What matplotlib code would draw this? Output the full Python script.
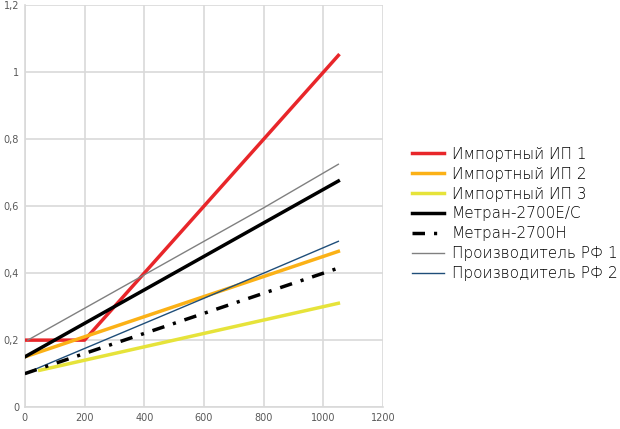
import matplotlib
matplotlib.use('Agg')
import matplotlib.pyplot as plt
from matplotlib.ticker import FuncFormatter

# data
x = [0, 200, 400, 600, 800, 1050]
imp1 = [0.2, 0.2, 0.4, 0.6, 0.8, 1.05]
imp2 = [0.15, 0.21, 0.27, 0.33, 0.39, 0.465]
x_imp3 = [50, 200, 400, 600, 800, 1050]
imp3 = [0.11, 0.14, 0.18, 0.22, 0.26, 0.31]
metran_ec = [0.15, 0.25, 0.35, 0.45, 0.55, 0.675]
metran_h = [0.1, 0.16, 0.22, 0.28, 0.34, 0.415]
x_rf1 = [10, 200, 400, 600, 800, 1050]
rf1 = [0.2, 0.295, 0.395, 0.495, 0.595, 0.725]
rf2 = [0.1, 0.175, 0.25, 0.325, 0.40, 0.495]

xticks = [0, 200, 400, 600, 800, 1000, 1200]
yticks = [0, 0.2, 0.4, 0.6, 0.8, 1.0, 1.2]

fig = plt.figure(figsize=(6.2, 4.29), dpi=100)
ax = fig.add_axes([0.040, 0.051, 0.578, 0.937])

ax.plot(x, imp1, color='#e8262a', lw=2.5, label='Импортный ИП 1', zorder=3)
ax.plot(x, imp2, color='#fbb116', lw=2.5, label='Импортный ИП 2', zorder=3)
ax.plot(x_imp3, imp3, color='#e6e33a', lw=2.5, label='Импортный ИП 3', zorder=3)
ax.plot(x, metran_ec, color='black', lw=2.5, label='Метран-2700E/C', zorder=4)
ax.plot(x, metran_h, color='black', lw=2.5, dashes=(3.6, 2.6, 0.9, 2.6),
        label='Метран-2700H', zorder=4)
ax.plot(x_rf1, rf1, color='#808080', lw=1.0, label='Производитель РФ 1', zorder=3)
ax.plot(x, rf2, color='#1f4e79', lw=1.0, label='Производитель РФ 2', zorder=3)

ax.set_xlim(0, 1200)
ax.set_ylim(0, 1.2)
ax.set_xticks(xticks)
ax.set_yticks(yticks)
ax.yaxis.set_major_formatter(FuncFormatter(lambda v, p: ('%g' % round(v, 1)).replace('.', ',')))
ax.grid(True, color='#d9d9d9', lw=1.2)
ax.set_axisbelow(True)
for s in ['top', 'right']:
    ax.spines[s].set_visible(False)
for s in ['left', 'bottom']:
    ax.spines[s].set_color('#d9d9d9')
    ax.spines[s].set_linewidth(1.2)
ax.tick_params(length=0, labelsize=7, colors='#595959', pad=4)

fig.legend(loc='upper left', bbox_to_anchor=(0.642, 0.69), frameon=False,
           prop={'family': 'DejaVu Sans', 'weight': 200, 'size': 11},
           handlelength=2.1, handletextpad=0.5, labelspacing=0.32,
           labelcolor='black')

fig.savefig('out.png', dpi=100)
